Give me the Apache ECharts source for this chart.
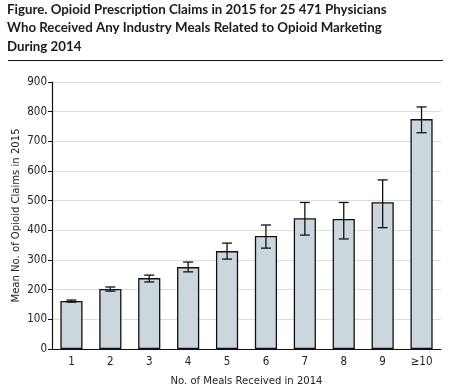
<!DOCTYPE html>
<html><head><meta charset="utf-8">
<script src="https://cdn.jsdelivr.net/npm/echarts@6/dist/echarts.min.js"></script>
<style>html,body{margin:0;padding:0;background:#fff}#c{width:450px;height:391px}</style>
</head><body><div id="c"></div>
<script>
const categories = ['1','2','3','4','5','6','7','8','9','≥10'];
const means = [162, 202, 239, 276, 330, 381, 441, 438, 495, 775];
const ciLow = [158, 195, 226, 260, 303, 340, 384, 371, 409, 729];
const ciHigh = [165, 209, 249, 293, 357, 418, 494, 494, 570, 816];
const yTicks = [0, 100, 200, 300, 400, 500, 600, 700, 800, 900];

const chart = echarts.init(document.getElementById('c'), null, {renderer: 'canvas'});
const FONT = '"DejaVu Sans Condensed", sans-serif';
const TFONT = 'Lato, sans-serif';
chart.setOption({
  animation: false,
  title: {
    text: 'Figure. Opioid Prescription Claims in 2015 for 25 471 Physicians\nWho Received Any Industry Meals Related to Opioid Marketing\nDuring 2014',
    left: 7, top: 0, padding: 0,
    textStyle: {fontFamily: TFONT, fontWeight: 'bold', fontSize: 13.3, color: '#1a1a1a', lineHeight: 18.5}
  },
  graphic: [{type: 'line', shape: {x1: 8, y1: 60.5, x2: 443, y2: 60.5}, style: {stroke: '#111', lineWidth: 1}}],
  grid: {left: 52, right: 9, top: 82, bottom: 42, outerBoundsMode: 'none', containLabel: false},
  xAxis: {
    type: 'category', data: categories,
    name: 'No. of Meals Received in 2014', nameLocation: 'middle', nameGap: 27,
    nameTextStyle: {fontFamily: FONT, fontSize: 11.2, color: '#222'},
    axisLine: {lineStyle: {color: '#111', width: 1.2}},
    axisTick: {show: false},
    axisLabel: {fontFamily: FONT, fontSize: 11.5, color: '#222', margin: 7}
  },
  yAxis: {
    type: 'value', min: 0, max: 900, interval: 100,
    name: 'Mean No. of Opioid Claims in 2015', nameLocation: 'middle', nameGap: 30,
    nameMoveOverlap: false,
    nameTextStyle: {fontFamily: FONT, fontSize: 11.2, color: '#222'},
    axisLine: {show: true, lineStyle: {color: '#111', width: 1.2}},
    axisTick: {show: true, length: 4, lineStyle: {color: '#111'}},
    axisLabel: {fontFamily: FONT, fontSize: 11.5, color: '#222', margin: 5,
      formatter: v => yTicks.includes(v) ? String(v) : ''},
    splitLine: {lineStyle: {color: '#dcdcdc', width: 1}}
  },
  series: [
    {
      type: 'bar', data: means, barWidth: '57%',
      itemStyle: {color: '#cbd7dd', borderColor: '#111', borderWidth: 1.3}
    },
    {
      type: 'custom',
      data: categories.map((c, i) => [i, ciLow[i], ciHigh[i]]),
      renderItem: (params, api) => {
        const x = api.value(0);
        const lo = api.coord([x, api.value(1)]);
        const hi = api.coord([x, api.value(2)]);
        const hw = 5;
        const st = {stroke: '#111', lineWidth: 1.3};
        return {type: 'group', children: [
          {type: 'line', shape: {x1: lo[0], y1: lo[1], x2: hi[0], y2: hi[1]}, style: st},
          {type: 'line', shape: {x1: lo[0]-hw, y1: lo[1], x2: lo[0]+hw, y2: lo[1]}, style: st},
          {type: 'line', shape: {x1: hi[0]-hw, y1: hi[1], x2: hi[0]+hw, y2: hi[1]}, style: st}
        ]};
      },
      z: 5
    }
  ]
});
</script></body></html>
